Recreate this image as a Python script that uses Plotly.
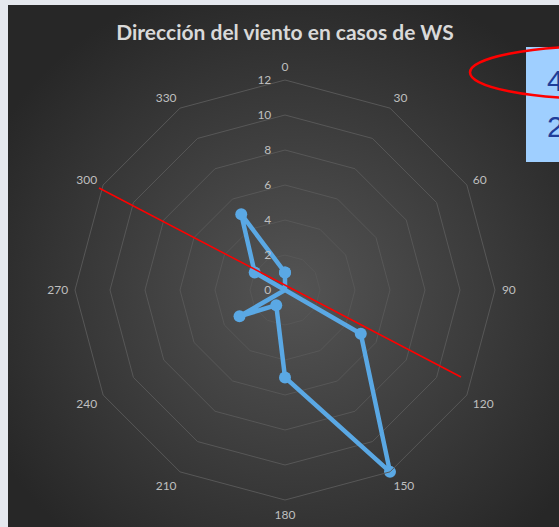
#!/usr/bin/env python3
# -*- coding: utf-8 -*-

"""Radar chart: wind direction in WS cases."""

import base64

import plotly.graph_objects as go

# Data
directions = ["0", "30", "60", "90", "120", "150", "180", "210", "240", "270", "300", "330"]
counts = [1, 0, 0, 0, 5, 12, 5, 1, 3, 0, 2, 5]
radial_ticks = [0, 2, 4, 6, 8, 10, 12]
side_labels = ["4", "2"]

W, H = 559, 527


def px(x):
    return x / W


def py(y):
    return 1 - y / H


# Dark chart area with a radial gradient (Excel style)
svg = """<svg xmlns='http://www.w3.org/2000/svg' width='600' height='600'>
<defs><radialGradient id='g' cx='0.52' cy='0.55' r='0.62'>
<stop offset='0' stop-color='#545454'/>
<stop offset='1' stop-color='#272727'/>
</radialGradient></defs>
<rect width='600' height='600' fill='url(#g)'/></svg>"""
bg_src = "data:image/svg+xml;base64," + base64.b64encode(svg.encode()).decode()

fig = go.Figure()

# Close the polygon by repeating the first point
theta = directions + directions[:1]
r = counts + counts[:1]

fig.add_trace(go.Scatterpolar(
    r=r,
    theta=theta,
    mode="lines+markers",
    line=dict(color="#5aa8e4", width=4.5),
    marker=dict(color="#5aa8e4", size=12),
    showlegend=False,
    hovertemplate="%{theta}: %{r}<extra></extra>",
))

side = 420
fig.update_layout(
    width=W,
    height=H,
    margin=dict(l=0, r=0, t=0, b=0),
    paper_bgcolor="#e5e8ee",
    font=dict(family="Lato, Open Sans, sans-serif", color="#bfbfbf"),
    title=dict(
        text="<b>Dirección del viento en casos de WS</b>",
        x=px(285), xanchor="center",
        y=py(33), yanchor="middle",
        font=dict(size=21, color="#d9d9d9"),
    ),
    polar=dict(
        domain=dict(x=[px(285 - side / 2), px(285 + side / 2)],
                    y=[py(290 + side / 2), py(290 - side / 2)]),
        bgcolor="rgba(0,0,0,0)",
        gridshape="linear",
        angularaxis=dict(
            type="category",
            categoryarray=directions,
            direction="clockwise",
            rotation=90,
            showgrid=False,
            showline=True,
            linecolor="#575757",
            linewidth=1,
            ticks="outside",
            ticklen=4,
            tickcolor="rgba(0,0,0,0)",
            tickfont=dict(size=12, color="#bfbfbf"),
        ),
        radialaxis=dict(
            range=[0, 12],
            tickvals=radial_ticks,
            angle=90,
            side="counterclockwise",
            tickangle=90,
            showline=False,
            ticks="outside",
            ticklen=9,
            tickcolor="rgba(0,0,0,0)",
            gridcolor="#575757",
            gridwidth=1,
            tickfont=dict(size=12, color="#bfbfbf"),
        ),
    ),
    images=[dict(
        source=bg_src,
        xref="paper", yref="paper",
        x=px(8), y=py(5),
        sizex=1 - px(8), sizey=py(5),
        xanchor="left", yanchor="top",
        sizing="stretch",
        layer="below",
    )],
    shapes=[
        # red trend line drawn over the chart
        dict(type="line", xref="paper", yref="paper",
             x0=px(99), y0=py(188), x1=px(461), y1=py(377),
             line=dict(color="#ff0000", width=1.5)),
        # light blue box on the right edge
        dict(type="rect", xref="paper", yref="paper",
             x0=px(526), y0=py(47), x1=px(600), y1=py(162),
             fillcolor="#9fcfff", line=dict(width=0)),
        # red ellipse highlighting the first value
        dict(type="circle", xref="paper", yref="paper",
             x0=px(470), y0=py(46), x1=px(736), y1=py(99),
             line=dict(color="#ff0000", width=2.5)),
    ],
    annotations=[
        dict(text=lbl, xref="paper", yref="paper",
             x=px(545), y=py(yy), xanchor="left", yanchor="middle",
             showarrow=False, font=dict(size=30, color="#1f3d99",
                                        family="Liberation Sans, sans-serif"))
        for lbl, yy in zip(side_labels, [80, 127])
    ],
)

fig.write_html("out.html", config={"displayModeBar": False},
               post_script="document.body.style.margin='0';")
